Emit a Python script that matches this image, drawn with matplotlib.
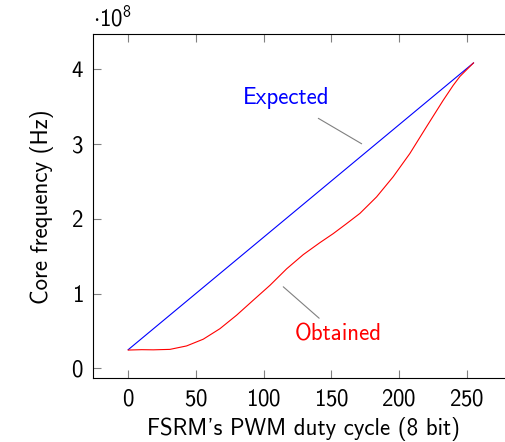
import numpy as np
from matplotlib import pyplot as plt

plt.rcParams['font.family'] = ['cmss10', 'DejaVu Sans']
plt.rcParams['mathtext.fontset'] = 'custom'
plt.rcParams['mathtext.rm'] = 'cmss10'
plt.rcParams['mathtext.sf'] = 'cmss10'
plt.rcParams['axes.formatter.use_mathtext'] = True

# duty cycle (8 bit) and core frequency in units of 1e8 Hz
duty_expected = [0, 255]
freq_expected = [0.25, 4.08]

duty_obtained = [0, 10, 18.5, 30.8, 43.1, 55.4, 67.7, 80, 92.3, 104.7, 117,
                 129.3, 141.6, 151.4, 161, 171.1, 183.4, 195.7, 208, 220.4,
                 232.6, 240, 245, 250, 255]
freq_obtained = [0.245, 0.25, 0.248, 0.254, 0.30, 0.39, 0.53, 0.71, 0.91, 1.11,
                 1.33, 1.52, 1.68, 1.80, 1.93, 2.07, 2.29, 2.56, 2.87, 3.23,
                 3.58, 3.78, 3.90, 3.99, 4.08]

fs = 16.5

fig = plt.figure(figsize=(5.06, 4.42), dpi=100)
ax = fig.add_axes([0.1844, 0.144, 0.83, 0.778])

ax.plot(duty_expected, freq_expected, color='blue', lw=0.8)
ax.plot(duty_obtained, freq_obtained, color='red', lw=0.8)

# pins
pin = dict(arrowstyle='-', color='gray', lw=0.8, shrinkA=0, shrinkB=0)
ax.annotate('', xy=(172.4, 3.0), xytext=(140.4, 3.34), arrowprops=pin)
ax.annotate('', xy=(114.5, 1.09), xytext=(141, 0.67), arrowprops=pin)
ax.text(117, 3.61, 'Expected', color='blue', fontsize=fs, ha='center', va='center')
ax.text(155, 0.45, 'Obtained', color='red', fontsize=fs, ha='center', va='center')

ax.set_xlim(-25.8, 284.4)
ax.set_ylim(-0.133, 4.46)
ax.set_xticks([0, 50, 100, 150, 200, 250])
ax.set_yticks([0, 1, 2, 3, 4])
ax.tick_params(direction='in', length=6, color='gray', labelsize=fs,
               top=True, right=True, pad=7)
for s in ax.spines.values():
    s.set_linewidth(0.8)

ax.set_xlabel("FSRM's PWM duty cycle (8 bit)", fontsize=fs, labelpad=5)
ax.set_ylabel('Core frequency (Hz)', fontsize=fs, labelpad=12)
ax.text(0.0, 1.01, r'$\cdot 10^8$', transform=ax.transAxes, fontsize=fs,
        ha='left', va='bottom')

fig.savefig('out.png', dpi=100)
